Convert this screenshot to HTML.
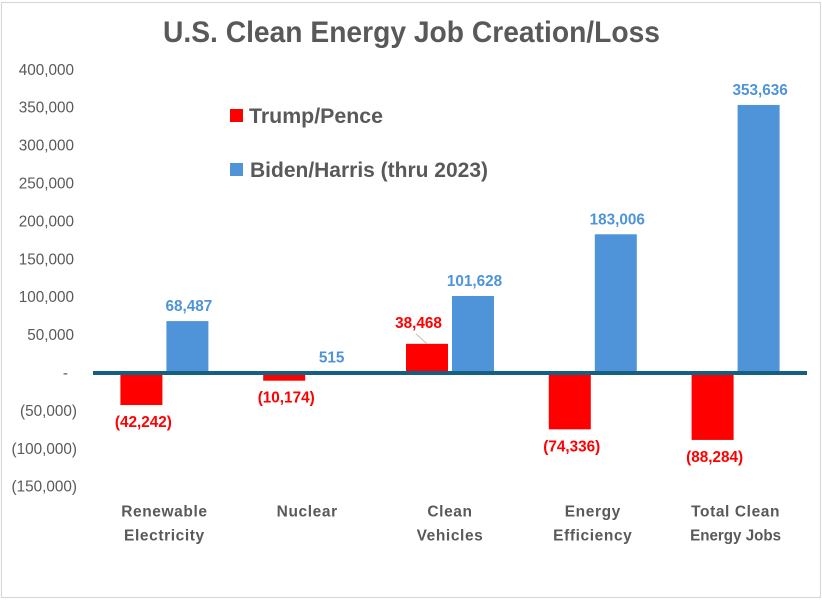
<!DOCTYPE html>
<html lang="en">
<head>
<meta charset="utf-8">
<title>U.S. Clean Energy Job Creation/Loss</title>
<style>
html,body{margin:0;padding:0;background:#fff;}
svg{display:block;font-family:"Liberation Sans",sans-serif;}
</style>
</head>
<body>
<svg id="chart" width="822" height="600" viewBox="0 0 822 600" xmlns="http://www.w3.org/2000/svg">
  <rect x="0" y="0" width="822" height="600" fill="#ffffff"/>
  <rect x="1.5" y="2.5" width="819" height="595" fill="#ffffff" stroke="#d9d9d9" stroke-width="1.2"/>
  <text x="411.5" y="42" text-anchor="middle" font-size="30" font-weight="700" fill="#595959" textLength="497" lengthAdjust="spacingAndGlyphs">U.S. Clean Energy Job Creation/Loss</text>
  <rect x="230" y="109" width="13" height="13" fill="#ff0000"/>
  <text x="249" y="123" font-size="21" font-weight="700" fill="#595959" textLength="134" lengthAdjust="spacingAndGlyphs">Trump/Pence</text>
  <rect x="230" y="163" width="13" height="13" fill="#4f94d9"/>
  <text x="250" y="177" font-size="21" font-weight="700" fill="#595959" textLength="238" lengthAdjust="spacingAndGlyphs">Biden/Harris (thru 2023)</text>
  <g id="y-axis"></g>
  <g id="bars"></g>
  <line x1="93" x2="807" y1="373" y2="373" stroke="#156082" stroke-width="4"/>
  <g id="labels"></g>
  <g id="x-axis"></g>
</svg>
<script>
const categories = [
  ["Renewable", "Electricity"],
  ["Nuclear"],
  ["Clean", "Vehicles"],
  ["Energy", "Efficiency"],
  ["Total Clean", "Energy Jobs"]
];
const trumpPence = [-42242, -10174, 38468, -74336, -88284];
const bidenHarris = [68487, 515, 101628, 183006, 353636];
const yTicks = [400000, 350000, 300000, 250000, 200000, 150000, 100000, 50000, 0, -50000, -100000, -150000];

const svgNS = "http://www.w3.org/2000/svg";
const RED = "#ff0000";
const BLUE = "#4f94d9";
const GRAY = "#595959";

function yScale(v) { return 373 - v * 37.9 / 50000; }
function bandCenter(i) { return 93 + 142.8 * (i + 0.5); }

function fmt(v) {
  const s = Math.abs(v).toLocaleString("en-US");
  return v < 0 ? "(" + s + ")" : s;
}
function make(tag, attrs, parent, text) {
  const el = document.createElementNS(svgNS, tag);
  for (const k in attrs) el.setAttribute(k, attrs[k]);
  if (text !== undefined) el.textContent = text;
  parent.appendChild(el);
  return el;
}

const yAxis = document.getElementById("y-axis");
const barsG = document.getElementById("bars");
const labelsG = document.getElementById("labels");
const xAxis = document.getElementById("x-axis");

yTicks.forEach(function (t) {
  const endX = t < 0 ? 77 : (t === 0 ? 68 : 74);
  const el = make("text", { x: endX, y: yScale(t) + 5, "text-anchor": "end", "font-size": 15.3, fill: GRAY }, yAxis, t === 0 ? "-" : fmt(t));
  
  
});

function drawBar(v, x, color, name) {
  const y0 = yScale(0), y1 = yScale(v);
  const el = make("rect", { x: x, y: Math.min(y0, y1), width: 42, height: Math.abs(y1 - y0), fill: color }, barsG);
  
  
}

function drawLabel(v, x, y, color, name) {
  const el = make("text", { x: x, y: y, "text-anchor": "middle", "font-size": 15.3, "font-weight": 700, fill: color }, labelsG, fmt(v));
  
  
}

categories.forEach(function (lines, i) {
  const c = bandCenter(i);
  const redX = c - 44;
  const blueX = c + 2;
  const r = trumpPence[i];
  const b = bidenHarris[i];

  drawBar(r, redX, RED, "bar-trump-pence");
  drawBar(b, blueX, BLUE, "bar-biden-harris");

  if (r < 0) {
    drawLabel(r, redX + 23, yScale(r) + 22, RED, "data-label-trump-pence");
  } else {
    drawLabel(r, redX + 12.5, yScale(r) - 16, RED, "data-label-trump-pence");
    const leader = make("line", { x1: redX + 10, y1: yScale(r) - 10, x2: redX + 21, y2: yScale(r), stroke: "#bfbfbf", "stroke-width": 1 }, labelsG);
    
    
  }
  drawLabel(b, blueX + 22.5, yScale(b) - 10, BLUE, "data-label-biden-harris");

  lines.forEach(function (line, j) {
    const attrs = { x: c, y: 516.5 + j * 24, "text-anchor": "middle", "font-size": 15.5, "font-weight": 700, fill: GRAY };
    if (line === "Energy Jobs") {
      attrs.textLength = 91;
      attrs.lengthAdjust = "spacingAndGlyphs";
    } else {
      attrs["letter-spacing"] = 0.6;
    }
    const el = make("text", attrs, xAxis, line);
    
    
  });
});
</script>
</body>
</html>
